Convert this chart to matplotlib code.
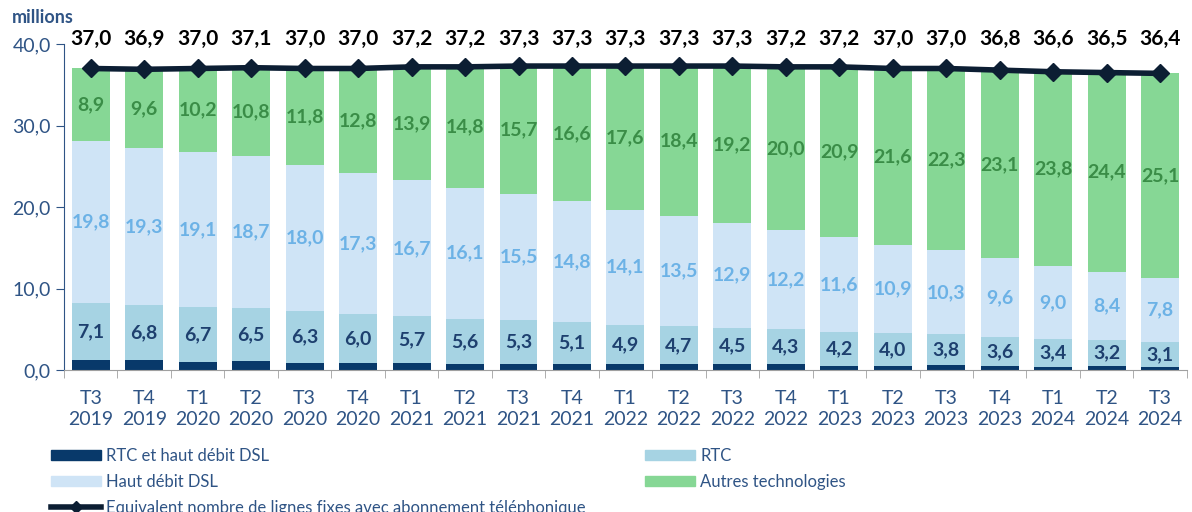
import numpy as np
import matplotlib.pyplot as plt
from matplotlib.patches import Patch
from matplotlib.lines import Line2D

plt.rcParams['font.family'] = ['Lato', 'DejaVu Sans']

periods = ['T3\n2019', 'T4\n2019', 'T1\n2020', 'T2\n2020', 'T3\n2020', 'T4\n2020',
           'T1\n2021', 'T2\n2021', 'T3\n2021', 'T4\n2021', 'T1\n2022', 'T2\n2022',
           'T3\n2022', 'T4\n2022', 'T1\n2023', 'T2\n2023', 'T3\n2023', 'T4\n2023',
           'T1\n2024', 'T2\n2024', 'T3\n2024']
rtc_dsl = [1.2, 1.2, 1.0, 1.1, 0.9, 0.9, 0.9, 0.7, 0.8, 0.8, 0.7, 0.7, 0.7, 0.7,
           0.5, 0.5, 0.6, 0.5, 0.4, 0.5, 0.4]
rtc = [7.1, 6.8, 6.7, 6.5, 6.3, 6.0, 5.7, 5.6, 5.3, 5.1, 4.9, 4.7, 4.5, 4.3,
       4.2, 4.0, 3.8, 3.6, 3.4, 3.2, 3.1]
dsl = [19.8, 19.3, 19.1, 18.7, 18.0, 17.3, 16.7, 16.1, 15.5, 14.8, 14.1, 13.5,
       12.9, 12.2, 11.6, 10.9, 10.3, 9.6, 9.0, 8.4, 7.8]
autres = [8.9, 9.6, 10.2, 10.8, 11.8, 12.8, 13.9, 14.8, 15.7, 16.6, 17.6, 18.4,
          19.2, 20.0, 20.9, 21.6, 22.3, 23.1, 23.8, 24.4, 25.1]
total = [37.0, 36.9, 37.0, 37.1, 37.0, 37.0, 37.2, 37.2, 37.3, 37.3, 37.3, 37.3,
         37.3, 37.2, 37.2, 37.0, 37.0, 36.8, 36.6, 36.5, 36.4]

c_dark = '#08396a'
c_rtc = '#a6d3e3'
c_dsl = '#cfe4f6'
c_aut = '#86d795'
c_line = '#0c1e33'
c_axis = '#2f5485'

def fmt(v):
    return f'{v:.1f}'.replace('.', ',')

x = np.arange(len(periods))
w = 0.71

fig = plt.figure(figsize=(11.92, 5.12), dpi=100)
ax = fig.add_axes([0.0537, 0.277, 0.942, 0.637])

b0 = np.array(rtc_dsl)
b1 = b0 + np.array(rtc)
b2 = b1 + np.array(dsl)
ax.bar(x, rtc_dsl, w, color=c_dark)
ax.bar(x, rtc, w, bottom=b0, color=c_rtc)
ax.bar(x, dsl, w, bottom=b1, color=c_dsl)
ax.bar(x, autres, w, bottom=b2, color=c_aut)
ax.plot(x, total, color=c_line, lw=4, marker='D', ms=9, zorder=5)

for i in x:
    ax.text(i, b0[i] + rtc[i] / 2, fmt(rtc[i]), ha='center', va='center',
            fontsize=14, fontweight='bold', color='#1e406f')
    ax.text(i, b1[i] + dsl[i] / 2, fmt(dsl[i]), ha='center', va='center',
            fontsize=14, fontweight='bold', color='#6cb2e6')
    ax.text(i, b2[i] + autres[i] / 2, fmt(autres[i]), ha='center', va='center',
            fontsize=14, fontweight='bold', color='#3a8d47')
    ax.text(i, 39.4, fmt(total[i]), ha='center', va='bottom',
            fontsize=15, fontweight='bold', color='black')

ax.set_xlim(-0.5, len(periods) - 0.5)
ax.set_ylim(0, 40)
ax.set_yticks([0, 10, 20, 30, 40])
ax.set_yticklabels([fmt(v) for v in [0, 10, 20, 30, 40]], color=c_axis, fontsize=14)
ax.set_xticks(x)
ax.set_xticklabels(periods, color=c_axis, fontsize=14, linespacing=1.3)
ax.set_xticks(np.arange(-0.5, len(periods)), minor=True)
ax.tick_params(axis='x', which='major', length=0, pad=14)
ax.tick_params(axis='x', which='minor', length=6, color='#a0a0a0')
ax.tick_params(axis='y', length=6, color=c_axis)
for s in ['top', 'right']:
    ax.spines[s].set_visible(False)
ax.spines['left'].set_color(c_axis)
ax.spines['bottom'].set_color('#a0a0a0')

fig.text(0.010, 0.955, 'millions', fontsize=13, fontweight='bold', color=c_axis)

handles = [Patch(color=c_dark, label='RTC et haut débit DSL'),
           Patch(color=c_dsl, label='Haut débit DSL'),
           Line2D([], [], color=c_line, lw=4, marker='D', ms=6,
                  label='Equivalent nombre de lignes fixes avec abonnement téléphonique'),
           Patch(color=c_rtc, label='RTC'),
           Patch(color=c_aut, label='Autres technologies')]
leg = fig.legend(handles=handles, loc='upper left', bbox_to_anchor=(0.037, 0.138),
                 ncol=2, frameon=False, fontsize=12, handlelength=3.0,
                 handleheight=0.6, handletextpad=0.3, labelspacing=0.6,
                 columnspacing=3.6, borderaxespad=0)
for t in leg.get_texts():
    t.set_color(c_axis)

fig.savefig('out.png', dpi=100)
